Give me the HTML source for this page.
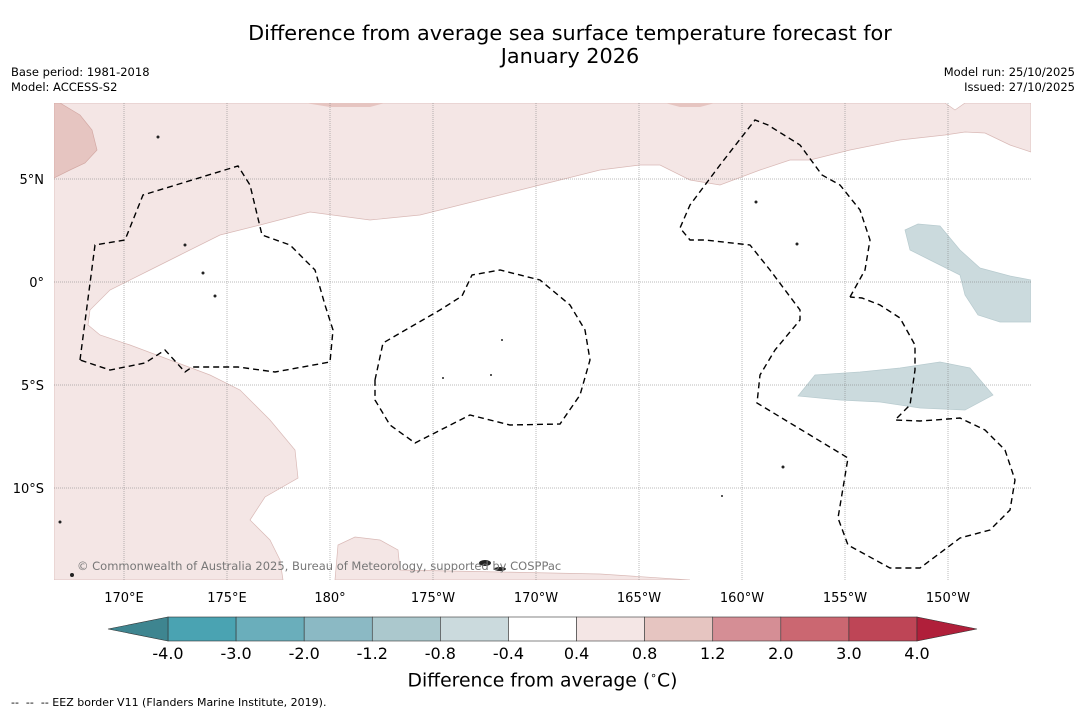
<!DOCTYPE html>
<html><head><meta charset="utf-8"><style>
body{margin:0;background:#fff;font-family:"DejaVu Sans","Liberation Sans",sans-serif;}
#root{position:relative;width:1085px;height:713px;overflow:hidden;background:#fff}
.t{position:absolute;white-space:nowrap;color:#000}
</style></head><body>
<div id="root">
<div class="t" style="left:0;width:1140px;text-align:center;top:22px;font-size:20.8px;line-height:23px">Difference from average sea surface temperature forecast for<br>January 2026</div>
<div class="t" style="left:11px;top:65px;font-size:11.5px;line-height:15px">Base period: 1981-2018<br>Model: ACCESS-S2</div>
<div class="t" style="right:10px;top:65px;font-size:11.5px;line-height:15px;text-align:right">Model run: 25/10/2025<br>Issued: 27/10/2025</div>
<svg id="map" width="1085" height="713" style="position:absolute;left:0;top:0">
<defs><clipPath id="cp"><rect x="54" y="103" width="977" height="477"/></clipPath></defs>
<g clip-path="url(#cp)">
<rect x="54" y="103" width="977" height="477" fill="#fff"/>
<path fill="#f4e6e5" stroke="#d9b9b6" stroke-width="0.7" d="M54,103 L945,103 L955,110 L965,103 L1031,103 L1031,152 L1010,145 L985,133 L965,132 L945,135 L900,140 L850,150 L810,160 L790,160 L760,170 L720,185 L690,180 L660,165 L640,165 L600,170 L540,185 L480,200 L420,215 L370,220 L310,212 L260,225 L220,235 L180,255 L150,270 L110,290 L90,310 L88,325 L100,335 L130,345 L170,360 L210,375 L240,390 L270,420 L295,450 L298,478 L265,497 L250,520 L270,540 L280,560 L283,580 L54,580 Z"/>
<path fill="#f4e6e5" stroke="#d9b9b6" stroke-width="0.7" d="M335,580 L338,545 L355,537 L380,540 L398,550 L400,570 L500,572 L600,574 L690,580 Z"/>
<path fill="#e6c5c1" stroke="#d3a9a4" stroke-width="0.7" d="M54,103 L60,103 L80,115 L92,130 L97,150 L85,163 L70,170 L54,178 Z"/>
<path fill="#e6c5c1" d="M305,103 L385,103 L370,107 L330,107 Z"/>
<path fill="#e6c5c1" d="M665,103 L715,103 L700,107 L680,107 Z"/>
<path fill="#cbdadd" stroke="#b8cbcf" stroke-width="0.7" d="M905,230 L918,224 L940,226 L960,250 L980,268 L1010,276 L1031,280 L1031,322 L1000,322 L978,315 L965,295 L960,275 L930,260 L910,250 Z"/>
<path fill="#cbdadd" stroke="#b8cbcf" stroke-width="0.7" d="M798,396 L815,375 L860,372 L900,368 L940,362 L970,368 L993,395 L965,410 L920,408 L880,402 L840,400 Z"/>
<g id="grid" stroke="#777" stroke-width="0.5" stroke-dasharray="1,1"></g>
<g fill="none" stroke="#000" stroke-width="1.4" stroke-dasharray="6,4">
<polyline points="80,360 95,245 125,240 143,195 238,166 250,185 262,235 290,245 315,270 325,305 333,330 330,362 275,372 238,367 192,367 185,372 165,350 145,363 110,370 80,360"/>
<polyline points="375,380 383,343 440,310 462,296 472,275 500,270 540,280 570,305 585,330 590,360 580,395 560,424 510,425 470,415 415,443 390,425 375,400 375,380"/>
<polyline points="850,297 865,270 870,240 860,210 840,185 822,175 800,145 768,125 755,120 720,165 690,205 680,228 690,240 705,240 750,245 770,270 800,310 800,320 775,350 760,375 757,403 848,458 838,518 848,545 890,568 920,568 960,538 990,530 1010,510 1015,480 1005,450 985,430 960,418 935,420 920,421 895,420 910,405 915,370 915,345 900,318 880,305 862,298 850,297"/>
</g>
<g fill="#222">
<ellipse cx="485" cy="563" rx="6" ry="3"/><ellipse cx="500" cy="569" rx="6" ry="2"/><circle cx="158" cy="137" r="1.5"/><circle cx="185" cy="245" r="1.5"/><circle cx="203" cy="273" r="1.5"/><circle cx="215" cy="296" r="1.5"/><circle cx="797" cy="244" r="1.5"/><circle cx="756" cy="202" r="1.5"/><circle cx="491" cy="375" r="1"/><circle cx="443" cy="378" r="1"/><circle cx="783" cy="467" r="1.5"/><circle cx="60" cy="522" r="1.5"/><circle cx="72" cy="575" r="2"/><circle cx="722" cy="496" r="1"/><circle cx="502" cy="340" r="1"/>
</g>
<text x="77" y="570" font-size="11.5" fill="#777" font-family="DejaVu Sans, Liberation Sans, sans-serif">© Commonwealth of Australia 2025, Bureau of Meteorology, supported by COSPPac</text>
</g>
<g id="axes" font-size="13" font-family="DejaVu Sans, Liberation Sans, sans-serif"></g>
<g id="cbar"></g>
</svg>
<div class="t" style="left:0;width:1085px;text-align:center;top:669px;font-size:18.8px">Difference from average (<sup style="font-size:11px">∘</sup>C)</div>
<div class="t" style="left:11px;top:696px;font-size:11px">-- &nbsp;-- &nbsp;-- EEZ border V11 (Flanders Marine Institute, 2019).</div>
</div>
<script>
const lonLabels=["170°E","175°E","180°","175°W","170°W","165°W","160°W","155°W","150°W"];
const lonValues=[170,175,180,185,190,195,200,205,210];
const latLabels=["5°N","0°","5°S","10°S"];
const latValues=[5,0,-5,-10];
const cbarTicks=["-4.0","-3.0","-2.0","-1.2","-0.8","-0.4","0.4","0.8","1.2","2.0","3.0","4.0"];
const cbarColors=["#4aa3b2","#6aaebb","#8bb9c4","#abc8cd","#cbdadd","#ffffff","#f4e6e5","#e6c5c1","#d58e95","#cb6771","#be4556"];
const NS="http://www.w3.org/2000/svg";
const xLon=l=>124+(l-170)*20.6;
const yLat=l=>282-l*20.6;
const grid=document.getElementById('grid'),axes=document.getElementById('axes'),cb=document.getElementById('cbar');
function mk(t,a,p){const e=document.createElementNS(NS,t);for(const k in a)e.setAttribute(k,a[k]);p.appendChild(e);return e;}
lonValues.forEach((v,i)=>{
 const l=mk('line',{x1:xLon(v),x2:xLon(v),y1:103,y2:580},grid);
 
 
 const t=mk('text',{x:xLon(v),y:602,'text-anchor':'middle'},axes);t.textContent=lonLabels[i];
 
 
});
latValues.forEach((v,i)=>{
 const l=mk('line',{x1:54,x2:1031,y1:yLat(v),y2:yLat(v)},grid);
 
 
 const t=mk('text',{x:44,y:yLat(v)+5,'text-anchor':'end'},axes);t.textContent=latLabels[i];
 
 
});
const x0=168,x1=917,y0=617,h=24,w=(x1-x0)/cbarColors.length;
cbarColors.forEach((c,i)=>{
 const r=mk('rect',{x:x0+i*w,y:y0,width:w,height:h,fill:c,stroke:'#333','stroke-width':0.6},cb);
 
 
});
const la=mk('polygon',{points:`${x0},${y0} ${x0},${y0+h} 108,${y0+h/2}`,fill:'#3e8590',stroke:'#333','stroke-width':0.6},cb);


const ra=mk('polygon',{points:`${x1},${y0} ${x1},${y0+h} 977,${y0+h/2}`,fill:'#b01f3a',stroke:'#333','stroke-width':0.6},cb);


cbarTicks.forEach((s,i)=>{
 const t=mk('text',{x:x0+i*w,y:659,'text-anchor':'middle','font-size':16,'font-family':'DejaVu Sans, Liberation Sans, sans-serif'},cb);t.textContent=s;
 
 
});
</script>
</body></html>
